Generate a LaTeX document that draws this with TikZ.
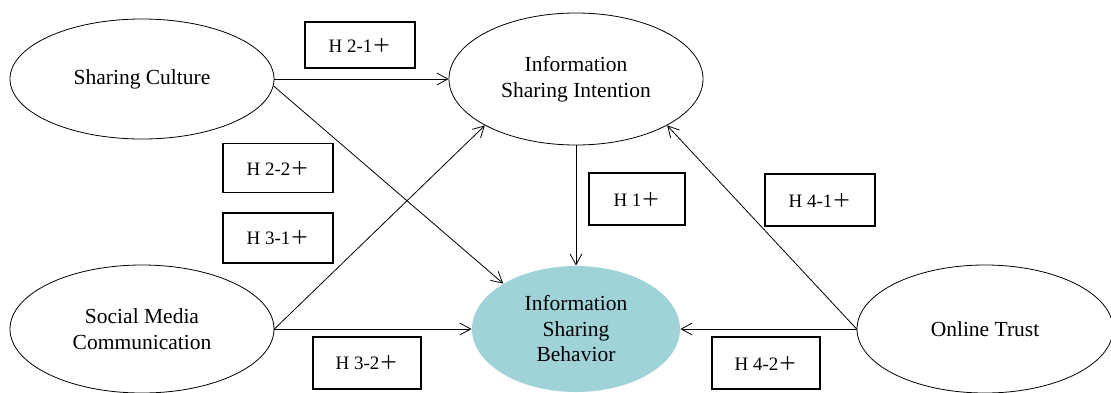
\documentclass[tikz,border=0pt]{standalone}
\usepackage{fontspec}
\setmainfont{Liberation Serif}
\newfontfamily\cjk{Noto Sans CJK SC}
\usetikzlibrary{shapes.geometric,arrows.meta}
\definecolor{isbfill}{RGB}{160,211,216}
\newcommand{\plusmark}{{\cjk ＋}}
\begin{document}
\begin{tikzpicture}[x=1pt,y=-1pt,
  oval/.style={ellipse,draw,line width=0.8pt,inner sep=0pt,align=center,
    font=\fontsize{21.5}{25.5}\selectfont},
  hyp/.style={draw,line width=1.3pt,inner sep=0pt,minimum width=110pt,
    minimum height=48pt,font=\fontsize{19}{22}\selectfont},
  link/.style={line width=0.8pt,-{Straight Barb[length=11pt,width=12pt]}}]
\useasboundingbox (0,0) rectangle (1111,392);

\node[oval,minimum width=264pt,minimum height=120pt] (sc) at (142,79) {Sharing Culture};
\node[oval,minimum width=254pt,minimum height=132pt] (isi) at (576,79) {Information\\Sharing Intention};
\node[oval,draw=none,fill=isbfill,minimum width=208pt,minimum height=126pt] (isb) at (576,329) {Information\\Sharing\\Behavior};
\node[oval,minimum width=264pt,minimum height=128pt] (smc) at (142,329) {Social Media\\Communication};
\node[oval,minimum width=256pt,minimum height=128pt] (ot) at (985,329) {Online Trust};

\node[hyp,minimum height=46pt] (h21) at (360,45) {H 2-1\plusmark};
\node[hyp,minimum height=49pt] (h22) at (278,168) {H 2-2\plusmark};
\node[hyp,minimum height=50pt] (h31) at (278,238) {H 3-1\plusmark};
\node[hyp,minimum width=96pt,minimum height=52pt] (h1) at (637,199) {H 1\plusmark};
\node[hyp,minimum height=52pt] (h41) at (820,200) {H 4-1\plusmark};
\node[hyp,minimum width=108pt,minimum height=52pt] (h32) at (367,363) {H 3-2\plusmark};
\node[hyp,minimum width=108pt,minimum height=52pt] (h42) at (766,363) {H 4-2\plusmark};

\draw[link] (sc.east) -- (isi.west);
\draw[link] (sc.-3) -- (isb.148);
\draw[link] (smc.east) -- (isi.207);
\draw[link] (smc.east) -- (isb.west);
\draw[link] (isi.south) -- (isb.north);
\draw[link] (ot.west) -- (isi.333);
\draw[link] (ot.west) -- (isb.east);
\end{tikzpicture}
\end{document}
